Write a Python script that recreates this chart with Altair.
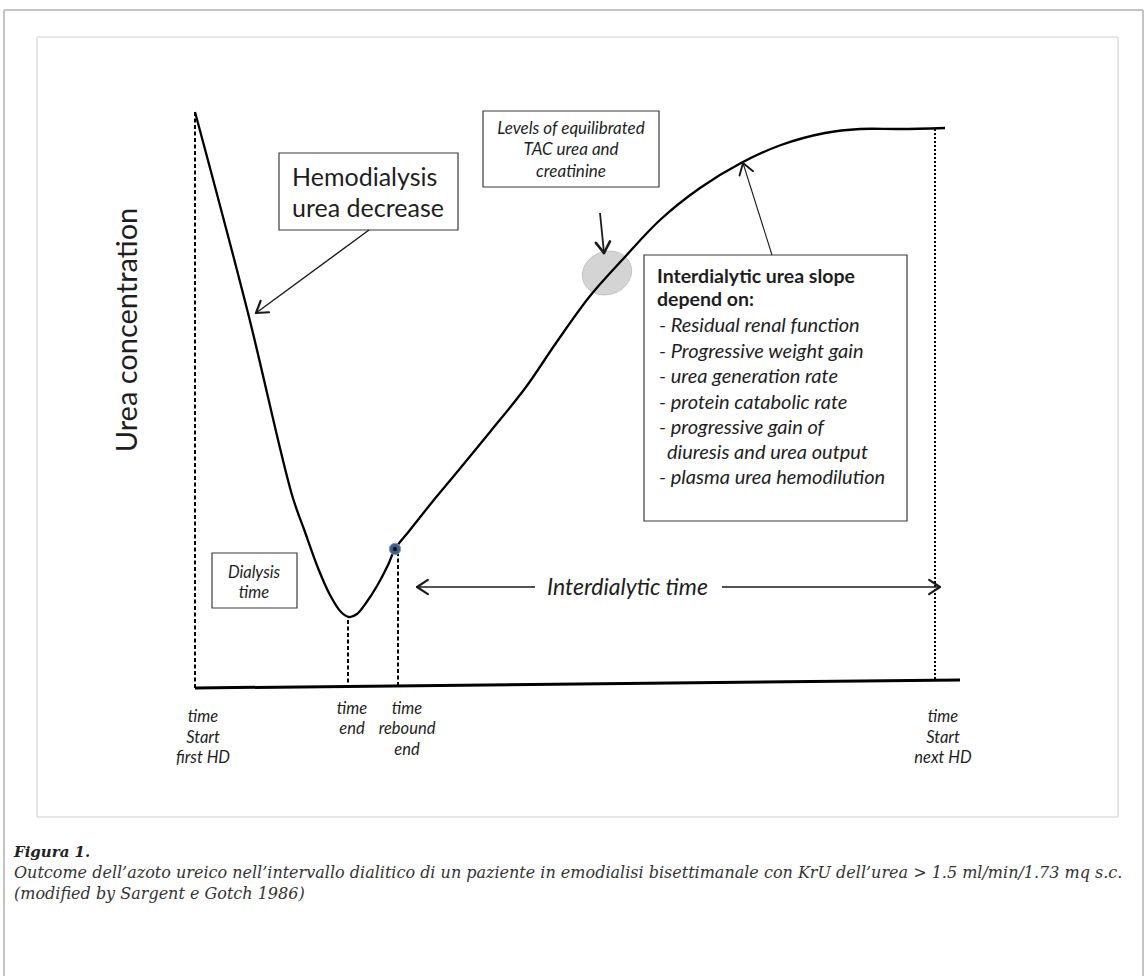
import math
import altair as alt
import pandas as pd

W, H = 1148, 976

# ---- curve (urea concentration over time), in picture units ----
curve_x = [195, 248, 292, 305, 318, 330, 341, 349, 357, 366, 377, 388, 395, 410, 433, 453, 490, 526, 556, 590, 624, 660, 700, 741, 781, 825, 860, 900, 945]
curve_y = [112, 313, 495, 532, 568, 595, 612, 617, 614, 603, 586, 565, 549, 530, 501, 477, 432, 387, 343, 296, 258, 220, 188, 163, 145, 133, 129, 129, 128]

# baseline (time axis)
base_x = [195, 960]
base_y = [688, 680]

# vertical markers: x, top, bottom
dash_x = [195, 348, 398]
dash_top = [112, 620, 552]
dash_bot = [688, 688, 688]
dot_x = [935]
dot_top = [129]
dot_bot = [680]

# rebound point
pt_x = [395]
pt_y = [549]

# ellipse (equilibrated level)
ell_x = [607]
ell_y = [273]

# boxes: x1, y1, x2, y2
box_x1 = [279, 483, 644, 212]
box_y1 = [153, 111, 255, 553]
box_x2 = [458, 659, 907, 297]
box_y2 = [230, 187, 521, 608]

# arrows: start -> end (head at end)
arr_x1 = [369, 600, 772, 535, 722]
arr_y1 = [230, 213, 255, 587, 587]
arr_x2 = [256, 604, 743, 417, 940]
arr_y2 = [313, 253, 163, 587, 587]
arr_w = [1.4, 1.8, 1.1, 1.3, 1.3]

# texts
big_text = ["Hemodialysis", "urea decrease"]
big_x = [292, 292]
big_y = [178, 209]

levels_text = ["Levels of equilibrated", "TAC urea and", "creatinine"]
levels_x = [571, 571, 571]
levels_y = [129, 150, 172]

slope_title = ["Interdialytic urea slope", "depend on:"]
slope_title_x = [657, 657]
slope_title_y = [277, 300]

slope_items = ["-  Residual renal function", "-  Progressive weight gain", "-  urea generation rate",
               "-  protein catabolic rate", "-  progressive gain of", "diuresis and urea output",
               "-  plasma urea hemodilution"]
slope_items_x = [659, 659, 659, 659, 659, 667, 659]
slope_items_y = [326, 352, 377, 403, 428, 453, 478]

small_text = ["Dialysis", "time",
              "time", "Start", "first HD",
              "time", "end",
              "time", "rebound", "end",
              "time", "Start", "next HD"]
small_x = [254, 254, 203, 203, 203, 352, 352, 407, 407, 407, 943, 943, 943]
small_y = [573, 593, 717, 738, 758, 709, 729, 709, 729, 750, 717, 738, 758]

inter_text = ["Interdialytic time"]
inter_x = [547]
inter_y = [588]

ylab_text = ["Urea concentration"]
ylab_x = [128]
ylab_y = [330]

cap_title = ["Figura 1."]
cap_lines = ["Outcome dell\u2019azoto ureico nell\u2019intervallo dialitico di un paziente in emodialisi bisettimanale con KrU dell\u2019urea > 1.5 ml/min/1.73 mq s.c.",
             "(modified by Sargent e Gotch 1986)"]
cap_x = [14, 14]
cap_title_y = [852]
cap_y = [873, 894]

# frames
frame_x1 = [37]
frame_y1 = [37]
frame_x2 = [1118]
frame_y2 = [817]
outer_x = [4, 4, 1143]
outer_y = [10, 10, 10]
outer_x2 = [1143, 4, 1143]
outer_y2 = [10, 976, 976]

# ------------------------------------------------------------
X = lambda f="x": alt.X(f"{f}:Q", scale=alt.Scale(domain=[0, W], nice=False, zero=False), axis=None)
Y = lambda f="y": alt.Y(f"{f}:Q", scale=alt.Scale(domain=[0, H], nice=False, zero=False, reverse=True), axis=None)

layers = []

# outer and inner frames
outer = pd.DataFrame({"x": outer_x, "y": outer_y, "x2": outer_x2, "y2": outer_y2})
layers.append(alt.Chart(outer).mark_rule(color="#c4c4c4", strokeWidth=2).encode(
    x=X(), y=Y(), x2="x2:Q", y2="y2:Q"))
frame = pd.DataFrame({"x": frame_x1, "y": frame_y1, "x2": frame_x2, "y2": frame_y2})
layers.append(alt.Chart(frame).mark_rect(fill="white", stroke="#cfcfcf", strokeWidth=1).encode(
    x=X(), y=Y(), x2="x2:Q", y2="y2:Q"))

# ellipse
ell = pd.DataFrame({"x": ell_x, "y": ell_y})
layers.append(alt.Chart(ell).mark_point(
    shape="M -1 0 A 1 0.86 -20 1 1 1 0 A 1 0.86 -20 1 1 -1 0 Z",
    filled=True, fill="#d4d4d4", stroke="#c2c2c2", strokeWidth=1, opacity=1, size=2400
).encode(x=X(), y=Y()))

# boxes
boxes = pd.DataFrame({"x": box_x1, "y": box_y1, "x2": box_x2, "y2": box_y2})
layers.append(alt.Chart(boxes).mark_rect(fill="white", stroke="#3a3a3a", strokeWidth=1.2).encode(
    x=X(), y=Y(), x2="x2:Q", y2="y2:Q"))

# dashed markers
dash = pd.DataFrame({"x": dash_x, "y": dash_top, "y2": dash_bot})
layers.append(alt.Chart(dash).mark_rule(color="black", strokeWidth=2, strokeDash=[4, 2.5]).encode(
    x=X(), y=Y(), y2="y2:Q"))
dots = pd.DataFrame({"x": dot_x, "y": dot_top, "y2": dot_bot})
layers.append(alt.Chart(dots).mark_rule(color="black", strokeWidth=2, strokeDash=[2, 2]).encode(
    x=X(), y=Y(), y2="y2:Q"))

# baseline
base = pd.DataFrame({"x": [base_x[0]], "y": [base_y[0]], "x2": [base_x[1]], "y2": [base_y[1]]})
layers.append(alt.Chart(base).mark_rule(color="black", strokeWidth=3).encode(
    x=X(), y=Y(), x2="x2:Q", y2="y2:Q"))

# curve
curve = pd.DataFrame({"x": curve_x, "y": curve_y, "o": list(range(len(curve_x)))})
layers.append(alt.Chart(curve).mark_line(color="black", strokeWidth=2.3, interpolate="catmull-rom").encode(
    x=X(), y=Y(), order="o:Q"))

# arrows: shafts + chevron heads
shaft_rows, head_rows = [], []
for i in range(len(arr_x1)):
    x1, y1, x2, y2, w = arr_x1[i], arr_y1[i], arr_x2[i], arr_y2[i], arr_w[i]
    shaft_rows.append({"x": x1, "y": y1, "x2": x2, "y2": y2, "w": w})
    ang = math.atan2(y2 - y1, x2 - x1)
    L = 13
    for s in (-1, 1):
        a = ang + math.pi + s * math.radians(33)
        head_rows.append({"x": x2, "y": y2, "x2": x2 + L * math.cos(a), "y2": y2 + L * math.sin(a), "w": w + 0.8})
shafts = pd.DataFrame(shaft_rows)
heads = pd.DataFrame(head_rows)
layers.append(alt.Chart(shafts).mark_rule(color="#1a1a1a").encode(
    x=X(), y=Y(), x2="x2:Q", y2="y2:Q", strokeWidth=alt.StrokeWidth("w:Q", scale=None)))
layers.append(alt.Chart(heads).mark_rule(color="#1a1a1a", strokeCap="round").encode(
    x=X(), y=Y(), x2="x2:Q", y2="y2:Q", strokeWidth=alt.StrokeWidth("w:Q", scale=None)))

# rebound point
pt = pd.DataFrame({"x": pt_x, "y": pt_y})
layers.append(alt.Chart(pt).mark_point(shape="circle", filled=True, fill="#3f5f85", stroke="#7f9cc0",
                                       strokeWidth=1, opacity=1, size=130).encode(x=X(), y=Y()))
layers.append(alt.Chart(pt).mark_point(shape="circle", filled=True, fill="black", opacity=1, size=16).encode(
    x=X(), y=Y()))


def text_layer(texts, xs, ys, **kw):
    df = pd.DataFrame({"x": xs, "y": ys, "t": texts})
    base_kw = dict(font="Lato", color="#1e1e1e", baseline="middle")
    base_kw.update(kw)
    return alt.Chart(df).mark_text(**base_kw).encode(x=X(), y=Y(), text="t:N")


layers.append(text_layer(big_text, big_x, big_y, fontSize=25, align="left"))
layers.append(text_layer(levels_text, levels_x, levels_y, fontSize=17, fontStyle="italic", align="center"))
layers.append(text_layer(slope_title, slope_title_x, slope_title_y, fontSize=19.5, fontWeight="bold", align="left"))
layers.append(text_layer(slope_items, slope_items_x, slope_items_y, fontSize=20, fontStyle="italic", align="left"))
layers.append(text_layer(small_text, small_x, small_y, fontSize=16.5, fontStyle="italic", align="center"))
layers.append(text_layer(inter_text, inter_x, inter_y, fontSize=23, fontStyle="italic", align="left"))
layers.append(text_layer(ylab_text, ylab_x, ylab_y, fontSize=29, angle=270, align="center"))
layers.append(text_layer(cap_title, [cap_x[0]], cap_title_y, font="DejaVu Serif", fontSize=15,
                         fontStyle="italic", fontWeight="bold", align="left", color="#222"))
layers.append(text_layer(cap_lines, cap_x, cap_y, font="DejaVu Serif", fontSize=16,
                         fontStyle="italic", align="left", color="#333"))

chart = alt.layer(*layers).properties(
    width=W, height=H, padding=0, autosize="none", background="white"
).configure_view(stroke=None)

chart.save("out.html", embed_options={"renderer": "svg", "actions": False})
